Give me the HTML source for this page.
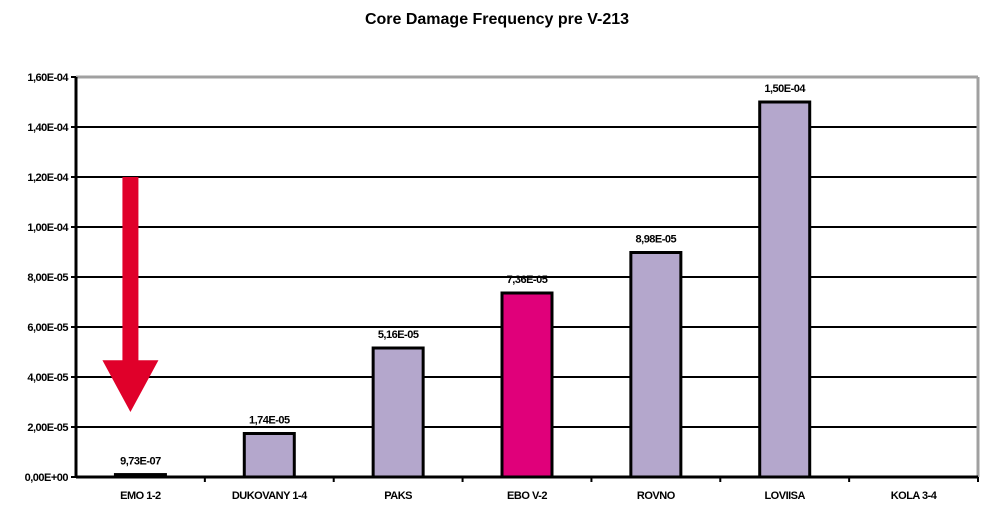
<!DOCTYPE html>
<html><head><meta charset="utf-8"><style>
body{margin:0;background:#fff;width:994px;height:524px;overflow:hidden}
svg{font-family:"Liberation Sans",Arial,sans-serif;font-weight:bold}
</style></head><body>
<svg id="chart" width="994" height="524">
<text x="497" y="24" text-anchor="middle" font-size="16">Core Damage Frequency pre V-213</text>
</svg>
<script>
const categories=["EMO 1-2","DUKOVANY 1-4","PAKS","EBO V-2","ROVNO","LOVIISA","KOLA 3-4"];
const values=[9.73e-7,1.74e-5,5.16e-5,7.36e-5,8.98e-5,1.50e-4,null];
const valueLabels=["9,73E-07","1,74E-05","5,16E-05","7,36E-05","8,98E-05","1,50E-04",""];
const tickValues=[0,2e-5,4e-5,6e-5,8e-5,1e-4,1.2e-4,1.4e-4,1.6e-4];
const tickLabels=["0,00E+00","2,00E-05","4,00E-05","6,00E-05","8,00E-05","1,00E-04","1,20E-04","1,40E-04","1,60E-04"];
const highlight=[false,false,false,true,false,false,false];
const arrowFrom=1.2e-4, arrowTo=2.6e-5;
const L=76,R=978,T=77,B=477,yMax=1.6e-4;
const yS=v=>B-(v/yMax)*(B-T);
const band=(R-L)/categories.length;
const xc=i=>L+band*(i+0.5);
const svg=document.getElementById('chart');
const NS='http://www.w3.org/2000/svg';
function mk(tag,attrs){const e=document.createElementNS(NS,tag);for(const k in attrs)e.setAttribute(k,attrs[k]);svg.appendChild(e);return e;}
tickValues.forEach((v,i)=>{
  if(v>0&&v<yMax){const g=mk('line',{x1:L,x2:R,y1:yS(v),y2:yS(v),stroke:'#000','stroke-width':2});
  
  }
  const t=mk('line',{x1:L-5,x2:L,y1:yS(v),y2:yS(v),stroke:'#000','stroke-width':2});
  
  
  const tx=mk('text',{x:L-8,y:yS(v)+4,'text-anchor':'end','font-size':11,'letter-spacing':'-0.5'});
  tx.textContent=tickLabels[i];
  
  
});
const topBorder=mk('line',{x1:L,x2:R,y1:T,y2:T,stroke:'#a0a0a0','stroke-width':3});


const rightBorder=mk('line',{x1:R,x2:R,y1:T,y2:B,stroke:'#a0a0a0','stroke-width':3});


categories.forEach((c,i)=>{
  const v=values[i];
  if(v!==null){
    const h=Math.max(B-yS(v),2);
    const b=mk('rect',{x:xc(i)-25,y:B-h,width:50,height:h,fill:highlight[i]?'#e0007a':'#b4a7cc',stroke:'#000','stroke-width':3});
    
    
    const lb=mk('text',{x:xc(i),y:yS(v)-10,'text-anchor':'middle','font-size':11,'letter-spacing':'-0.5'});
    lb.textContent=valueLabels[i];
    
    
  }
  const xl=mk('text',{x:xc(i),y:B+22,'text-anchor':'middle','font-size':11,'letter-spacing':'-0.5'});
  xl.textContent=c;
  
  
  const tk=mk('line',{x1:L+band*(i+1),x2:L+band*(i+1),y1:B,y2:B+5,stroke:'#000','stroke-width':2});
  
  
});
const ax=mk('line',{x1:L,x2:L,y1:T,y2:B+1,stroke:'#000','stroke-width':3});


const bx=mk('line',{x1:L,x2:R,y1:B,y2:B,stroke:'#000','stroke-width':3});


const ac=xc(0)-10;
const hs=yS(arrowFrom)+(yS(arrowTo)-yS(arrowFrom))*0.78;
const ar=mk('polygon',{points:`${ac-8},${yS(arrowFrom)} ${ac+8},${yS(arrowFrom)} ${ac+8},${hs} ${ac+28},${hs} ${ac},${yS(arrowTo)} ${ac-28},${hs} ${ac-8},${hs}`,fill:'#e0002a'});


</script>
</body></html>
